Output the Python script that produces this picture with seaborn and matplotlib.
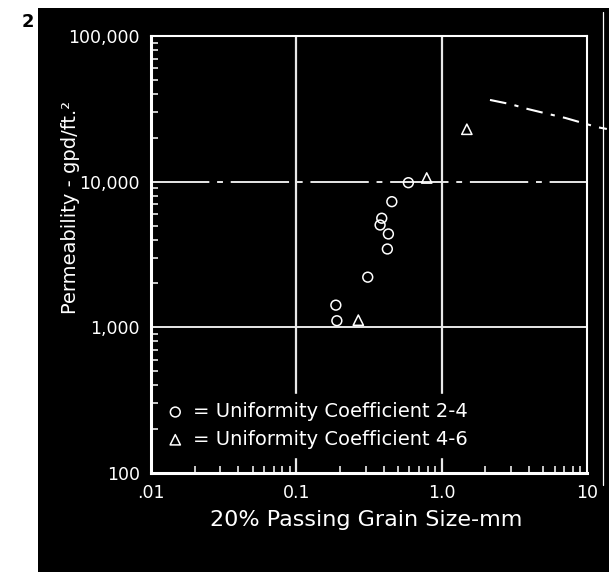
import numpy as np
import pandas as pd
import seaborn as sns
import matplotlib.pyplot as plt
from matplotlib.patches import Rectangle
from matplotlib.lines import Line2D
from matplotlib.ticker import LogLocator, NullFormatter

# Data
grain_uc24 = [0.187, 0.190, 0.310, 0.377, 0.387, 0.423, 0.430, 0.454, 0.590]
perm_uc24 = [1420, 1110, 2210, 5040, 5610, 3450, 4375, 7290, 9840]

grain_uc46 = [0.267, 0.789, 1.49]
perm_uc46 = [1120, 10600, 22900]

# broken trend line at the top right (runs past the frame)
trend_grain = [2.15, 3.0, 3.93, 5.3, 7.07, 9.2, 11.7, 13.7]
trend_perm = [36400, 34000, 31500, 29300, 27400, 25400, 23700, 23000]

x_ticks = [0.01, 0.1, 1.0, 10]
x_labels = [".01", "0.1", "1.0", "10"]
y_ticks = [100, 1000, 10000, 100000]
y_labels = ["100", "1,000", "10,000", "100,000"]

df24 = pd.DataFrame({"grain": grain_uc24, "perm": perm_uc24})
df46 = pd.DataFrame({"grain": grain_uc46, "perm": perm_uc46})

sns.set_style("dark")
plt.rcParams["font.family"] = ["DejaVu Sans"]

fig = plt.figure(figsize=(6.09, 5.72), dpi=100)
fig.patch.set_facecolor("white")
# black scanned page
fig.patches.append(Rectangle((38 / 609, 0), 1, 1 - 8 / 572, transform=fig.transFigure,
                             facecolor="black", edgecolor="none", zorder=-10))
fig.add_artist(Line2D([603 / 609, 603 / 609], [1 - 12 / 572, 1 - 485 / 572],
                      color="white", lw=0.9))
fig.text(22 / 609, 1 - 22 / 572, "2", fontsize=13, fontweight="bold", color="black",
         va="center", ha="left")

ax = fig.add_axes([151 / 609, 1 - 473 / 572, 436 / 609, 437 / 572])
ax.set_facecolor("black")
ax.set_xscale("log")
ax.set_yscale("log")
ax.set_xlim(0.01, 10)
ax.set_ylim(100, 100000)

# grid
for v in [0.1, 1.0]:
    ax.axvline(v, color="#e8e8e8", lw=1.6, zorder=1)
ax.axhline(1000, color="#e8e8e8", lw=1.4, zorder=1)
ax.axhline(10000, color="#e8e8e8", lw=1.4, zorder=1, dashes=(30, 4, 3, 4))
ax.grid(False)

sns.scatterplot(data=df24, x="grain", y="perm", ax=ax, marker="o", s=50,
                facecolor="none", edgecolor="white", linewidth=1.1, zorder=3,
                label="= Uniformity Coefficient 2-4")
sns.scatterplot(data=df46, x="grain", y="perm", ax=ax, marker="^", s=55,
                facecolor="none", edgecolor="white", linewidth=1.1, zorder=3,
                label="= Uniformity Coefficient 4-6")
ax.plot(trend_grain, trend_perm, color="white", lw=1.5, dashes=(8, 4, 2, 4),
        clip_on=False, zorder=3)

for side in ["left", "bottom", "top", "right"]:
    ax.spines[side].set_visible(True)
    ax.spines[side].set_color("white")
ax.spines["left"].set_linewidth(2.2)
ax.spines["bottom"].set_linewidth(2.2)
ax.spines["top"].set_linewidth(1.5)
ax.spines["right"].set_linewidth(1.5)

ax.set_xticks(x_ticks, x_labels)
ax.set_yticks(y_ticks, y_labels)
ax.xaxis.set_minor_locator(LogLocator(base=10, subs=np.arange(2, 10)))
ax.yaxis.set_minor_locator(LogLocator(base=10, subs=np.arange(2, 10)))
ax.xaxis.set_minor_formatter(NullFormatter())
ax.yaxis.set_minor_formatter(NullFormatter())
ax.tick_params(which="both", direction="in", colors="white", bottom=True, left=True,
               top=False, right=False)
ax.tick_params(which="major", length=0, pad=8, labelsize=12.5, labelcolor="white")
ax.tick_params(which="minor", length=5, width=1.1)

ax.set_xlabel("")
ax.set_ylabel("")
fig.text(366 / 609, 1 - 520 / 572, "20% Passing Grain Size-mm", fontsize=16,
         color="white", ha="center", va="center")
fig.text(70 / 609, 1 - 207 / 572, "Permeability - gpd/ft.²", fontsize=14,
         color="white", ha="center", va="center", rotation=90)

leg = ax.legend(loc="upper left", bbox_to_anchor=(0.02, 0.18), fontsize=14,
                frameon=True, facecolor="black", edgecolor="black", framealpha=1,
                handlelength=0.8, handletextpad=0.5, labelspacing=0.45,
                borderaxespad=0, fancybox=False)
for t in leg.get_texts():
    t.set_color("white")
leg.set_zorder(5)

fig.savefig("out.png", dpi=100, facecolor=fig.get_facecolor())
